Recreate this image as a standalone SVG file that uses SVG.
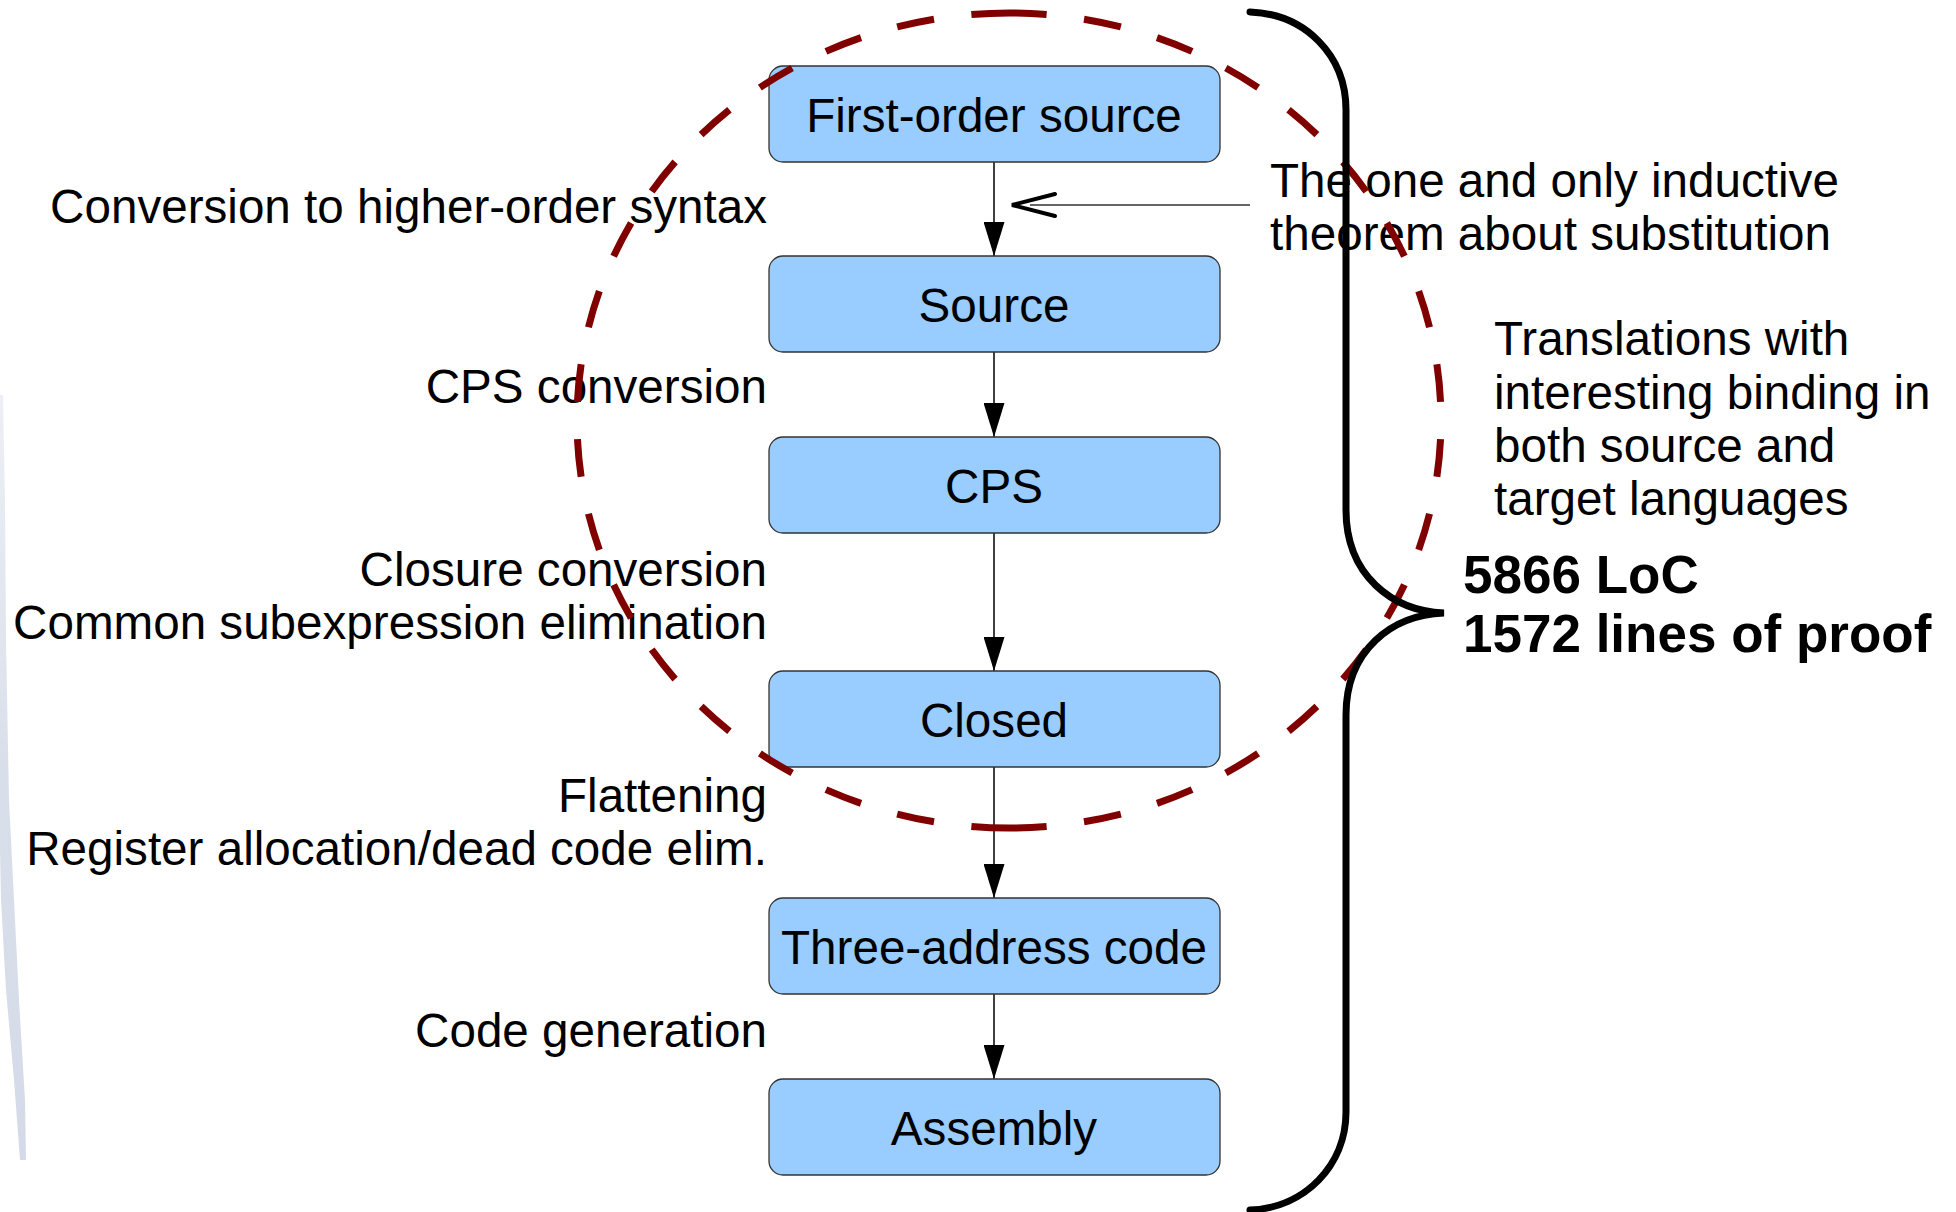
<svg xmlns="http://www.w3.org/2000/svg" width="1956" height="1212" viewBox="0 0 1956 1212">
<style>
  text { font-family: "Liberation Sans", Arial, sans-serif; font-size: 47.6px; fill: #000; }
  .lbl { text-anchor: end; }
  .ctr { text-anchor: middle; }
  .bold { font-weight: bold; font-size: 53px; }
  .box { fill: #99ccff; stroke: #333; stroke-width: 1.3; }
  .conn { stroke: #000; stroke-width: 1.5; fill: none; }
  .brace { stroke: #000; stroke-width: 7; fill: none; stroke-linecap: round; }
  .dash { stroke: #800000; stroke-width: 7; fill: none; stroke-dasharray: 1 1; }
</style>
<defs>
  <marker id="arr" viewBox="0 0 34 21" refX="34" refY="10.5" markerWidth="34" markerHeight="21" markerUnits="userSpaceOnUse" orient="auto">
    <path d="M0,0 L34,10.5 L0,21 Z" fill="#000"/>
  </marker>
  <linearGradient id="fade" x1="0" y1="0" x2="0" y2="1">
    <stop offset="0" stop-color="#eceff5"/>
    <stop offset="0.5" stop-color="#d9dfea"/>
    <stop offset="1" stop-color="#d4dae7"/>
  </linearGradient>
</defs>
<rect width="1956" height="1212" fill="#fff"/>
<path d="M0,395 L3,395 L5,500 L6,640 L9,800 L14,900 L19,1000 L25,1100 L26,1160 L20,1160 L14,1080 L6,990 L1,900 L0,850 Z" fill="url(#fade)"/>

<g id="connectors">
  <line class="conn" x1="994" y1="162" x2="994" y2="256" marker-end="url(#arr)"/>
  <line class="conn" x1="994" y1="352" x2="994" y2="437" marker-end="url(#arr)"/>
  <line class="conn" x1="994" y1="533" x2="994" y2="671" marker-end="url(#arr)"/>
  <line class="conn" x1="994" y1="767" x2="994" y2="898" marker-end="url(#arr)"/>
  <line class="conn" x1="994" y1="994" x2="994" y2="1079" marker-end="url(#arr)"/>
  <line x1="1250" y1="205" x2="1030" y2="205" stroke="#333" stroke-width="1.5"/>
  <polyline points="1055,194 1012,205 1055,216" fill="none" stroke="#000" stroke-width="4" stroke-linecap="round" stroke-linejoin="miter"/>
</g>

<g id="n-first"><rect class="box" x="769" y="66" width="451" height="96" rx="14"/><text class="ctr" x="994" y="132">First-order source</text></g>
<g id="n-source"><rect class="box" x="769" y="256" width="451" height="96" rx="14"/><text class="ctr" x="994" y="321.5">Source</text></g>
<g id="n-cps"><rect class="box" x="769" y="437" width="451" height="96" rx="14"/><text class="ctr" x="994" y="502.5">CPS</text></g>
<g id="n-closed"><rect class="box" x="769" y="671" width="451" height="96" rx="14"/><text class="ctr" x="994" y="736.5">Closed</text></g>
<g id="n-tac"><rect class="box" x="769" y="898" width="451" height="96" rx="14"/><text class="ctr" x="994" y="963.5">Three-address code</text></g>
<g id="n-asm"><rect class="box" x="769" y="1079" width="451" height="96" rx="14"/><text class="ctr" x="994" y="1144.5">Assembly</text></g>

<g id="labels">
  <text class="lbl" x="767" y="223">Conversion to higher-order syntax</text>
  <text class="lbl" x="767" y="403">CPS conversion</text>
  <text class="lbl" x="767" y="585.5">Closure conversion</text>
  <text class="lbl" x="767" y="638.5">Common subexpression elimination</text>
  <text class="lbl" x="767" y="811.5">Flattening</text>
  <text class="lbl" x="767" y="864.5">Register allocation/dead code elim.</text>
  <text class="lbl" x="767" y="1046.5">Code generation</text>
</g>

<g id="annotations">
  <text x="1270" y="196.5">The one and only inductive</text>
  <text x="1270" y="249.5">theorem about substitution</text>
  <text x="1494" y="354.5">Translations with</text>
  <text x="1494" y="408.5">interesting binding in</text>
  <text x="1494" y="462">both source and</text>
  <text x="1494" y="515">target languages</text>
  <text class="bold" x="1463" y="593">5866 LoC</text>
  <text class="bold" x="1463" y="652">1572 lines of proof</text>
</g>

<g id="scope">
  <path class="dash" pathLength="35" d="M1009,13 A432,407.5 0 0 1 1009,828"/>
  <path class="dash" pathLength="35" d="M1009,13 A432,407.5 0 0 0 1009,828"/>
</g>

<g id="brace">
  <path class="brace" d="M1250,12 C1305,14 1346,55 1346,110 L1346,510 C1346,575 1392,611 1444,613 C1392,615 1346,650 1346,715 L1346,1112 C1346,1165 1305,1208 1250,1210"/>
</g>
</svg>
